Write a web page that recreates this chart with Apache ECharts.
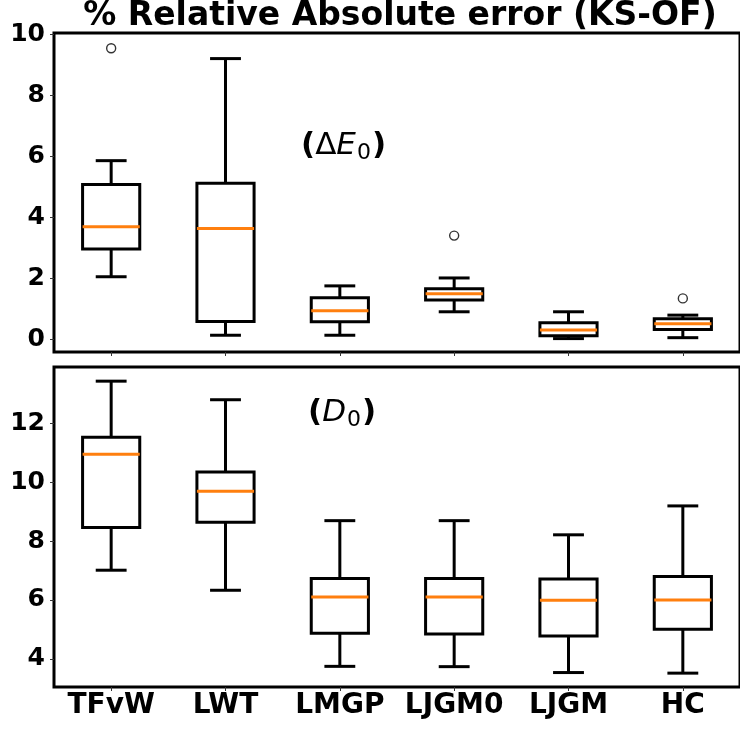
<!DOCTYPE html>
<html>
<head>
<meta charset="utf-8">
<script src="https://cdn.jsdelivr.net/npm/echarts@6/dist/echarts.min.js"></script>
<style>
  html, body { margin: 0; padding: 0; background: #fff; }
  #chart { width: 740px; height: 729px; }
</style>
</head>
<body>
<div id="chart"></div>
<script>
  // groups on the x axis
  const categories = ['TFvW', 'LWT', 'LMGP', 'LJGM0', 'LJGM', 'HC']

  // [lower whisker, Q1, median, Q3, upper whisker] per group
  const e0Boxes = [
    [2.05, 2.96, 3.69, 5.08, 5.86],
    [0.13, 0.58, 3.63, 5.12, 9.21],
    [0.13, 0.57, 0.93, 1.36, 1.75],
    [0.90, 1.29, 1.49, 1.66, 2.01],
    [0.02, 0.11, 0.30, 0.54, 0.90],
    [0.05, 0.32, 0.51, 0.67, 0.79],
  ]
  const e0Outliers = [
    ['TFvW', 9.55],
    ['LJGM0', 3.40],
    ['HC', 1.34],
  ]
  const d0Boxes = [
    [7.01, 8.46, 10.94, 11.52, 13.42],
    [6.33, 8.64, 9.69, 10.34, 12.79],
    [3.75, 4.87, 6.10, 6.73, 8.69],
    [3.74, 4.85, 6.10, 6.73, 8.69],
    [3.54, 4.78, 5.99, 6.71, 8.21],
    [3.52, 5.01, 6.00, 6.80, 9.19],
  ]

  const e0Ticks = [0, 2, 4, 6, 8, 10]
  const d0Ticks = [4, 6, 8, 10, 12]

  const FONT = 'DejaVu Sans'
  const ORANGE = '#ff7f0e'

  function renderBox(params, api) {
    const x = api.value(0)
    const lo = api.coord([x, api.value(1)])
    const q1 = api.coord([x, api.value(2)])
    const md = api.coord([x, api.value(3)])
    const q3 = api.coord([x, api.value(4)])
    const hi = api.coord([x, api.value(5)])
    const band = api.size([1, 0])[0]
    const hb = band * 0.25
    const hc = band * 0.135
    const cx = lo[0]
    const ln = { stroke: '#000', lineWidth: 3 }
    return {
      type: 'group',
      children: [
        { type: 'line', shape: { x1: cx, y1: q3[1], x2: cx, y2: hi[1] }, style: ln },
        { type: 'line', shape: { x1: cx, y1: q1[1], x2: cx, y2: lo[1] }, style: ln },
        { type: 'line', shape: { x1: cx - hc, y1: hi[1], x2: cx + hc, y2: hi[1] }, style: ln },
        { type: 'line', shape: { x1: cx - hc, y1: lo[1], x2: cx + hc, y2: lo[1] }, style: ln },
        {
          type: 'rect',
          shape: { x: cx - hb, y: q3[1], width: hb * 2, height: q1[1] - q3[1] },
          style: { stroke: '#000', lineWidth: 3, fill: 'none' },
        },
        {
          type: 'line',
          shape: { x1: cx - hb, y1: md[1], x2: cx + hb, y2: md[1] },
          style: { stroke: ORANGE, lineWidth: 3 },
        },
      ],
    }
  }

  function toRows(boxes) {
    return boxes.map((b, i) => [i, ...b])
  }

  const gridCommon = {
    left: 54,
    width: 692,
    show: true,
    borderColor: '#000',
    borderWidth: 3,
    backgroundColor: 'transparent',
  }

  function xAxis(gridIndex, showLabels) {
    return {
      type: 'category',
      gridIndex,
      data: categories,
      axisLine: { show: false, onZero: false },
      axisTick: {
        show: true,
        interval: 0,
        alignWithLabel: true,
        length: 4,
        lineStyle: { color: '#333', width: 1 },
      },
      axisLabel: {
        show: showLabels,
        interval: 0,
        margin: 5,
        color: '#000',
        fontFamily: FONT,
        fontWeight: 'bold',
        fontSize: 28,
      },
      splitLine: { show: false },
    }
  }

  function yAxis(gridIndex, min, max, ticks) {
    return {
      type: 'value',
      gridIndex,
      min,
      max,
      axisLine: { show: false },
      axisTick: { show: true, length: 4, customValues: ticks, lineStyle: { color: '#333', width: 1 } },
      axisLabel: {
        customValues: ticks,
        margin: 9,
        color: '#000',
        fontFamily: FONT,
        fontWeight: 'bold',
        fontSize: 25,
      },
      splitLine: { show: false },
    }
  }

  const chart = echarts.init(document.getElementById('chart'), null, { renderer: 'canvas' })
  chart.setOption({
    animation: false,
    grid: [
      { ...gridCommon, top: 33, height: 319 },
      { ...gridCommon, top: 367, height: 320 },
    ],
    xAxis: [xAxis(0, false), xAxis(1, true)],
    yAxis: [yAxis(0, -0.42, 10.05, e0Ticks), yAxis(1, 3.05, 13.9, d0Ticks)],
    series: [
      {
        type: 'custom',
        xAxisIndex: 0,
        yAxisIndex: 0,
        renderItem: renderBox,
        encode: { x: 0, y: [1, 2, 3, 4, 5] },
        data: toRows(e0Boxes),
        z: 3,
      },
      {
        type: 'scatter',
        xAxisIndex: 0,
        yAxisIndex: 0,
        data: e0Outliers,
        symbol: 'circle',
        symbolSize: 9,
        itemStyle: { color: '#fff', borderColor: '#000', borderWidth: 1.4 },
        z: 4,
      },
      {
        type: 'custom',
        xAxisIndex: 1,
        yAxisIndex: 1,
        renderItem: renderBox,
        encode: { x: 0, y: [1, 2, 3, 4, 5] },
        data: toRows(d0Boxes),
        z: 3,
      },
    ],
    graphic: [
      {
        type: 'text',
        x: 400,
        y: 16,
        style: {
          text: '% Relative Absolute error (KS-OF)',
          fontFamily: FONT,
          fontWeight: 'bold',
          fontSize: 33,
          fill: '#000',
          textAlign: 'center',
          textVerticalAlign: 'middle',
        },
      },
      {
        type: 'text',
        x: 301,
        y: 146,
        style: {
          text: '{p|(}{n|Δ}{i|E}{s|0}{p|)}',
          textVerticalAlign: 'middle',
          rich: {
            p: { fontFamily: FONT, fontWeight: 'bold', fontSize: 31, fill: '#000' },
            n: { fontFamily: FONT, fontSize: 31, fill: '#000' },
            i: { fontFamily: FONT, fontStyle: 'italic', fontSize: 31, fill: '#000' },
            s: { fontFamily: FONT, fontSize: 22, fill: '#000', padding: [14, 1, 0, 1] },
          },
        },
      },
      {
        type: 'text',
        x: 308,
        y: 413,
        style: {
          text: '{p|(}{i|D}{s|0}{p|)}',
          textVerticalAlign: 'middle',
          rich: {
            p: { fontFamily: FONT, fontWeight: 'bold', fontSize: 31, fill: '#000' },
            i: { fontFamily: FONT, fontStyle: 'italic', fontSize: 31, fill: '#000' },
            s: { fontFamily: FONT, fontSize: 22, fill: '#000', padding: [14, 1, 0, 1] },
          },
        },
      },
    ],
  })
</script>
</body>
</html>
